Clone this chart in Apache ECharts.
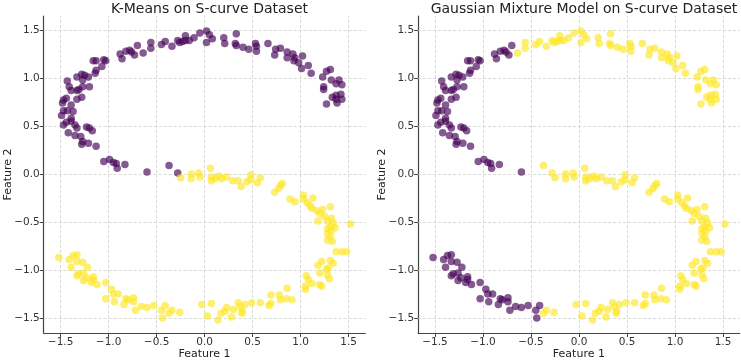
<!DOCTYPE html>
<html>
<head>
<meta charset="utf-8">
<script src="https://cdn.jsdelivr.net/npm/echarts@6/dist/echarts.min.js"></script>
<style>
  html, body { margin: 0; padding: 0; background: #fff; }
  #chart { width: 741px; height: 360px; }
</style>
</head>
<body>
<div id="chart"></div>
<script>
// points, grouped by how the two models label them
// purple in both
const bothPurple = [
  [-0.70,1.34],[-0.88,1.25],[-0.82,1.28],[-0.78,1.29],[-0.76,1.27],[-0.73,1.24],[-0.86,1.20],
  [-1.16,1.18],[-1.13,1.18],[-1.05,1.19],[-1.03,1.18],[-1.07,1.12],[-1.13,1.08],[-1.14,1.05],
  [-1.33,1.01],[-1.28,1.04],[-1.25,1.03],[-1.21,1.01],[-1.27,0.98],
  [-1.43,0.97],[-1.41,0.91],[-1.39,0.87],[-1.33,0.87],[-1.31,0.88],[-1.27,0.91],[-1.20,0.91],
  [-1.47,0.77],[-1.48,0.74],[-1.44,0.79],[-1.39,0.72],[-1.33,0.78],[-1.28,0.80],
  [-1.49,0.61],[-1.47,0.66],[-1.43,0.66],[-1.37,0.65],[-1.39,0.58],[-1.39,0.55],
  [-1.47,0.51],[-1.44,0.54],[-1.35,0.51],[-1.33,0.48],[-1.23,0.49],[-1.20,0.48],
  [-1.42,0.43],[-1.35,0.40],[-1.29,0.39],[-1.27,0.34],[-1.28,0.31],[-1.21,0.32],[-1.17,0.45],[-1.13,0.29],
  [-1.05,0.13],[-0.99,0.15],[-0.95,0.12],[-0.92,0.11],[-0.91,0.06],[-0.83,0.10],[-0.60,0.02]
];
// k-means purple, gmm yellow
const kmPurpleGmmYellow = [
  [-0.64,1.26],[-0.56,1.37],[-0.56,1.31],[-0.45,1.35],[-0.41,1.38],[-0.34,1.33],[-0.28,1.39],
  [-0.26,1.37],[-0.23,1.38],[-0.20,1.44],[-0.20,1.39],[-0.16,1.39],[-0.11,1.42],[-0.05,1.47],
  [0.02,1.49],[0.05,1.45],[0.08,1.41],[0.02,1.37],[0.20,1.42],[0.21,1.36],[0.33,1.46],[0.32,1.36],
  [0.33,1.34],[0.40,1.32],[0.46,1.30],[0.53,1.36],[0.54,1.33],[0.54,1.28],[0.66,1.36],[0.74,1.30],
  [0.73,1.24],[0.79,1.31],[0.86,1.27],[0.86,1.21],[0.92,1.25],[0.94,1.21],[0.93,1.18],[0.98,1.16],
  [1.02,1.23],[1.01,1.10],[1.08,1.13],[1.11,1.05],[1.23,1.01],[1.27,1.07],[1.31,1.09],[1.32,0.98],
  [1.37,0.94],[1.40,0.98],[1.43,0.93],[1.24,0.91],[1.24,0.88],[1.33,0.80],[1.37,0.82],[1.42,0.83],
  [1.43,0.78],[1.38,0.74],[1.27,0.73],[1.37,0.78],
  [-0.37,0.09],[-0.28,0.01]
];
// yellow in both
const bothYellow = [
  [-0.25,-0.04],[-0.14,0.00],[-0.14,-0.05],[-0.06,0.01],[-0.05,-0.03],[0.06,0.06],[0.07,-0.03],
  [0.07,-0.07],[0.11,-0.05],[0.15,-0.02],[0.18,-0.05],[0.23,-0.03],[0.29,-0.07],[0.35,-0.07],
  [0.38,-0.13],[0.44,-0.08],[0.48,-0.01],[0.48,-0.06],
  [0.55,-0.09],[0.58,-0.04],[0.73,-0.19],[0.77,-0.15],[0.79,-0.12],[0.81,-0.10],[0.89,-0.26],
  [0.94,-0.29],[1.03,-0.22],[1.03,-0.26],[1.07,-0.30],[1.10,-0.33],[1.13,-0.25],[1.12,-0.36],
  [1.17,-0.38],[1.20,-0.41],[1.23,-0.37],[1.25,-0.44],[1.31,-0.34],[1.18,-0.49],[1.28,-0.49],
  [1.32,-0.46],[1.34,-0.51],[1.31,-0.55],[1.36,-0.56],[1.28,-0.57],[1.52,-0.52],
  [1.32,-0.59],[1.28,-0.62],[1.31,-0.65],[1.28,-0.69],[1.33,-0.70],[1.37,-0.81],[1.43,-0.81],
  [1.48,-0.81],[1.22,-0.91],[1.31,-0.90],[1.34,-0.93],[1.18,-0.95],[1.29,-0.98],[1.27,-0.99],
  [1.20,-1.03],[1.28,-1.05],[1.30,-1.09],[1.06,-1.06],[1.08,-1.10],[1.12,-1.14],[1.05,-1.17],
  [1.05,-1.20],[1.20,-1.15],[1.22,-1.17],[0.86,-1.19],[0.78,-1.26],[0.79,-1.31],[0.85,-1.30],
  [0.91,-1.31],[0.69,-1.26],[0.69,-1.35],[0.67,-1.37],[0.58,-1.34],[0.49,-1.34],
  [-0.37,-1.45],[-0.34,-1.42],[-0.26,-1.44],[-0.03,-1.36],[0.03,-1.48],[0.07,-1.35],[0.14,-1.52],
  [0.17,-1.45],[0.21,-1.43],[0.23,-1.39],[0.28,-1.49],[0.30,-1.41],[0.35,-1.34],[0.37,-1.38],
  [0.39,-1.43],[0.42,-1.36],[0.39,-1.45]
];
// k-means yellow, gmm purple
const kmYellowGmmPurple = [
  [-1.52,-0.87],[-1.41,-0.89],[-1.37,-0.85],[-1.33,-0.84],[-1.33,-0.91],[-1.27,-0.92],[-1.39,-0.97],
  [-1.22,-0.97],[-1.33,-1.06],[-1.31,-1.04],[-1.26,-1.03],[-1.26,-1.11],[-1.23,-1.08],[-1.18,-1.13],
  [-1.16,-1.07],[-1.16,-1.10],[-1.12,-1.15],[-1.03,-1.13],[-0.97,-1.20],[-0.95,-1.25],[-0.90,-1.25],
  [-1.03,-1.30],[-0.94,-1.33],[-0.84,-1.36],[-0.82,-1.30],[-0.80,-1.31],[-0.74,-1.29],[-0.74,-1.33],
  [-0.72,-1.42],[-0.66,-1.38],[-0.60,-1.39],[-0.53,-1.37],[-0.45,-1.42],[-0.44,-1.50],[-0.41,-1.37]
];

const ticks = [-1.5, -1.0, -0.5, 0.0, 0.5, 1.0, 1.5];
const titles = ['K-Means on S-curve Dataset', 'Gaussian Mixture Model on S-curve Dataset'];

const PURPLE = '#440154';
const YELLOW = '#fde725';
const fmt = v => (v < 0 ? '\u2212' : '') + Math.abs(v).toFixed(1);

const axisBase = (idx, isX) => ({
  gridIndex: idx,
  type: 'value',
  min: isX ? -1.676 : -1.656,
  max: isX ? 1.674 : 1.646,
  name: isX ? 'Feature 1' : 'Feature 2',
  nameLocation: 'middle',
  nameGap: isX ? 16 : 30,
  nameMoveOverlap: false,
  nameTextStyle: { fontFamily: 'DejaVu Sans', fontSize: 11, color: '#222' },
  axisLine: { show: true, onZero: false, lineStyle: { color: '#444', width: 1.2 } },
  axisTick: { show: true, length: 4, customValues: ticks, lineStyle: { color: '#444' } },
  axisLabel: {
    customValues: ticks, formatter: fmt, margin: 4,
    fontFamily: 'DejaVu Sans', fontSize: 10.5, color: '#333'
  },
  splitLine: { show: false }
});

const grids = [
  { left: 43.7, top: 16, width: 321.6, height: 317, outerBoundsMode: 'none' },
  { left: 418.1, top: 16, width: 321.6, height: 317, outerBoundsMode: 'none' }
];

const scatter = (idx, data, color) => ({
  type: 'scatter',
  xAxisIndex: idx, yAxisIndex: idx,
  data: data,
  symbolSize: 7.5,
  z: 3,
  itemStyle: { color: color, opacity: 0.65 }
});

// dashed grid drawn as marklines so it sits on the tick values
const gridLines = idx => ({
  type: 'scatter',
  xAxisIndex: idx, yAxisIndex: idx,
  data: [],
  z: 1,
  markLine: {
    silent: true,
    z: 1,
    symbol: ['none', 'none'],
    label: { show: false },
    lineStyle: { color: '#cfcfcf', type: [3, 2], width: 0.8 },
    data: ticks.map(v => ({ xAxis: v })).concat(ticks.map(v => ({ yAxis: v })))
  }
});

const chart = echarts.init(document.getElementById('chart'));
chart.setOption({
  animation: false,
  backgroundColor: '#fff',
  title: [
    { text: titles[0], left: 204.5, top: -3, textAlign: 'center',
      textStyle: { fontFamily: 'DejaVu Sans', fontSize: 14, fontWeight: 'normal', color: '#222' } },
    { text: titles[1], left: 579, top: -3, textAlign: 'center',
      textStyle: { fontFamily: 'DejaVu Sans', fontSize: 14, fontWeight: 'normal', color: '#222' } }
  ],
  grid: grids,
  xAxis: [axisBase(0, true), axisBase(1, true)],
  yAxis: [axisBase(0, false), axisBase(1, false)],
  series: [
    gridLines(0),
    gridLines(1),
    scatter(0, bothPurple.concat(kmPurpleGmmYellow), PURPLE),
    scatter(0, bothYellow.concat(kmYellowGmmPurple), YELLOW),
    scatter(1, bothPurple.concat(kmYellowGmmPurple), PURPLE),
    scatter(1, bothYellow.concat(kmPurpleGmmYellow), YELLOW)
  ]
});
</script>
</body>
</html>
